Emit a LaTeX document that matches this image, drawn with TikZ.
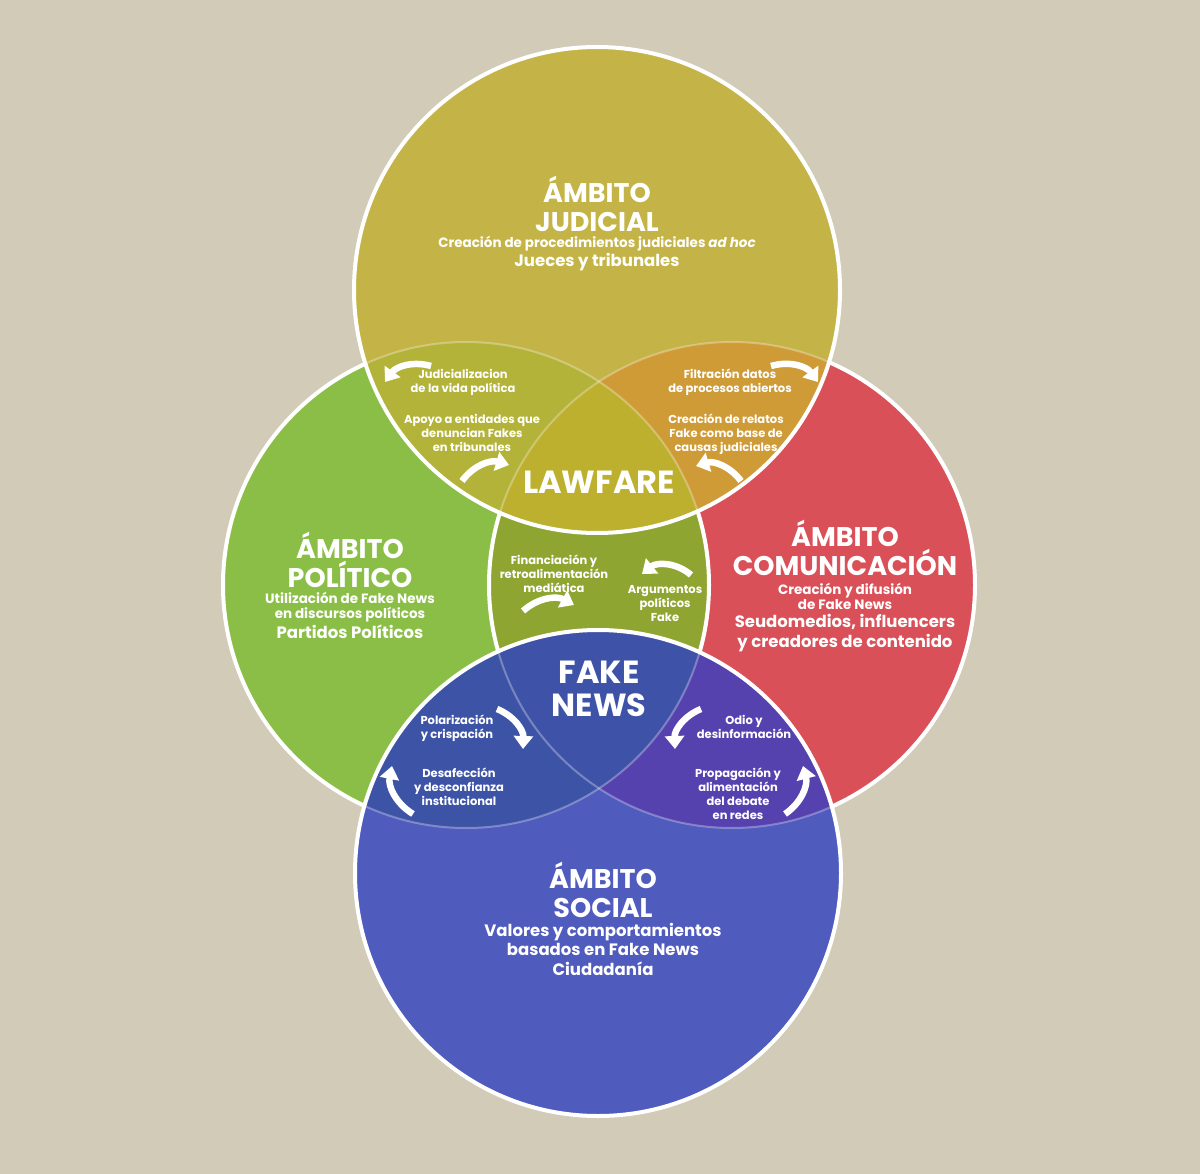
\documentclass[tikz,border=0pt]{standalone}
\usepackage{fontspec}
\setmainfont{Poppins}
\usetikzlibrary{arrows.meta}
\definecolor{sand}{HTML}{D1CBB8}
\definecolor{judcol}{HTML}{C4B447}
\definecolor{polcol}{HTML}{8BBE47}
\definecolor{comcol}{HTML}{DA5058}
\definecolor{soccol}{HTML}{505BBE}
\definecolor{jpcol}{HTML}{B3B33A}
\definecolor{jccol}{HTML}{CF9B37}
\definecolor{lawcol}{HTML}{BCB02E}
\definecolor{pccol}{HTML}{8FA532}
\definecolor{fakecol}{HTML}{3E53A8}
\definecolor{pscol}{HTML}{3D54A6}
\definecolor{cscol}{HTML}{5642AE}

\begin{document}
\begin{tikzpicture}[
    x = 1pt, y = -1pt,
    every node/.style = {text = white, align = center, inner sep = 0, anchor = base},
    ring/.style = {draw = white, line width = 4pt},
    ghost/.style = {draw = white, draw opacity = 0.3, line width = 2pt},
    turn/.style = {white, line width = 6.5pt, -{Triangle[length = 13pt, width = 19pt]}},
    head/.style = {font = \bfseries\fontsize{27}{29}\selectfont},
    sub/.style = {font = \bfseries\fontsize{13.5}{15}\selectfont},
    main/.style = {font = \bfseries\fontsize{16.5}{19.5}\selectfont},
    small/.style = {font = \bfseries\fontsize{11.5}{14}\selectfont},
    big/.style = {font = \bfseries\fontsize{32}{33}\selectfont}
    ]

  \fill [sand] (0,0) rectangle (1200,1174);

  \coordinate (jud) at (597,290);
  \coordinate (pol) at (466,585);
  \coordinate (com) at (732,585);
  \coordinate (soc) at (598,873);

  % side circles
  \fill [polcol] (pol) circle [radius = 243pt];
  \fill [comcol] (com) circle [radius = 243pt];
  \begin{scope}
    \clip (pol) circle [radius = 243pt];
    \fill [pccol] (com) circle [radius = 243pt];
  \end{scope}
  \path [ring] (pol) circle [radius = 243pt];
  \path [ring] (com) circle [radius = 243pt];

  % judicial circle
  \fill [judcol] (jud) circle [radius = 243pt];
  \begin{scope}
    \clip (jud) circle [radius = 243pt];
    \fill [jpcol] (pol) circle [radius = 243pt];
    \fill [jccol] (com) circle [radius = 243pt];
    \clip (pol) circle [radius = 243pt];
    \fill [lawcol] (com) circle [radius = 243pt];
  \end{scope}
  \begin{scope}
    \clip (jud) circle [radius = 243pt];
    \path [ghost] (pol) circle [radius = 243pt];
    \path [ghost] (com) circle [radius = 243pt];
  \end{scope}
  \path [ring] (jud) circle [radius = 243pt];

  % social circle
  \fill [soccol] (soc) circle [radius = 243pt];
  \begin{scope}
    \clip (soc) circle [radius = 243pt];
    \fill [pscol] (pol) circle [radius = 243pt];
    \fill [cscol] (com) circle [radius = 243pt];
    \clip (pol) circle [radius = 243pt];
    \fill [fakecol] (com) circle [radius = 243pt];
  \end{scope}
  \begin{scope}
    \clip (soc) circle [radius = 243pt];
    \path [ghost] (pol) circle [radius = 243pt];
    \path [ghost] (com) circle [radius = 243pt];
  \end{scope}
  \path [ring] (soc) circle [radius = 243pt];

  % ambitos (multi-line nodes sit on their last baseline)
  \node [head] (judH) at (597,232) {ÁMBITO\\JUDICIAL};
  \node [sub] (judS) at (597,248) {Creación de procedimientos judiciales \textit{ad hoc}};
  \node [main] (judM) at (597,267) {Jueces y tribunales};

  \node [head] (polH) at (350,587) {ÁMBITO\\POLÍTICO};
  \node [sub] (polS) at (350,618) {Utilización de Fake News\\en discursos políticos};
  \node [main] (polM) at (350,638) {Partidos Políticos};

  \node [head] (comH) at (845,575) {ÁMBITO\\COMUNICACIÓN};
  \node [sub] (comS) at (845,609) {Creación y difusión\\de Fake News};
  \node [main] (comM) at (845,647) {Seudomedios, influencers\\y creadores de contenido};

  \node [head] (socH) at (603,917) {ÁMBITO\\SOCIAL};
  \node [main] (socM) at (603,975) {Valores y comportamientos\\basados en Fake News\\Ciudadanía};

  % cruces
  \node [small] (judpol) at (463,392) {Judicializacion\\de la vida política};
  \node [small] (apoyo) at (472,451) {Apoyo a entidades que\\denuncian Fakes\\en tribunales};
  \node [small] (filtra) at (730,392) {Filtración datos\\de procesos abiertos};
  \node [small] (relato) at (726,451) {Creación de relatos\\Fake como base de\\causas judiciales};
  \node [big] (lawfare) at (599,493) {LAWFARE};

  \node [small] (financ) at (554,592) {Financiación y\\retroalimentación\\mediática};
  \node [small] (argum) at (665,621) {Argumentos\\políticos\\Fake};
  \node [big] (fake) at (599,716) {FAKE\\NEWS};

  \node [small] (polar) at (457,738) {Polarización\\y crispación};
  \node [small] (desaf) at (459,805) {Desafección\\y desconfianza\\institucional};
  \node [small] (odio) at (744,738) {Odio y\\desinformación};
  \node [small] (propag) at (738,819) {Propagación y\\alimentación\\del debate\\en redes};

  % flechas
  \draw [turn] (431,366) to [bend right = 35] (385,382);
  \draw [turn] (771,366) to [bend left = 35] (818,382);
  \draw [turn] (462,481) to [bend left = 35] (509,465);
  \draw [turn] (741,481) to [bend right = 35] (696,466);
  \draw [turn] (691,575) to [bend right = 40] (642,574);
  \draw [turn] (523,611) to [bend left = 35] (574,605);
  \draw [turn] (497,709) to [bend left = 35] (523,749);
  \draw [turn] (413,814) to [bend left = 35] (392,766);
  \draw [turn] (701,709) to [bend right = 35] (675,749);
  \draw [turn] (785,814) to [bend right = 35] (803,766);
\end{tikzpicture}
\end{document}
